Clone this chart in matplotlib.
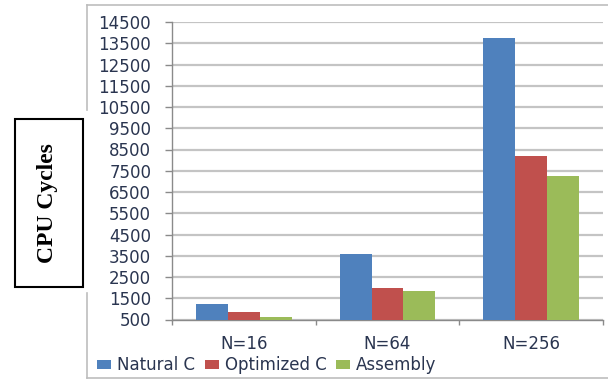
import matplotlib
matplotlib.use("Agg")
import matplotlib.pyplot as plt
from matplotlib.lines import Line2D
from matplotlib.patches import Rectangle
import numpy as np

categories = ["N=16", "N=64", "N=256"]
natural_c = [1240, 3590, 13730]
optimized_c = [850, 1980, 8200]
assembly = [600, 1860, 7260]
series_names = ["Natural C", "Optimized C", "Assembly"]
colors = ["#4F81BD", "#C0504D", "#9BBB59"]
y_ticks = list(range(500, 15000, 1000))

W, H = 608, 380
txt = "#2A3550"
fig = plt.figure(figsize=(W / 100, H / 100), dpi=100)
ax = fig.add_axes([172 / W, 1 - 319.5 / H, (603 - 172) / W, (319.5 - 22) / H])

x = np.arange(len(categories))
bw = 1 / 4.5
for i, (vals, name, c) in enumerate(zip([natural_c, optimized_c, assembly], series_names, colors)):
    ax.bar(x + (i - 1) * bw, np.array(vals) - 500, bw, bottom=500, color=c,
           label=name, zorder=3)

ax.set_xlim(-0.5, len(categories) - 0.5)
ax.set_ylim(500, 14500)
ax.set_yticks(y_ticks)
ax.set_yticklabels([str(v) for v in y_ticks], fontsize=12, color=txt)
ax.yaxis.grid(True, color="#C4C4C4", lw=1.6, zorder=0)
ax.set_axisbelow(True)

# category labels sit between the boundary ticks
ax.set_xticks(x)
ax.set_xticklabels(categories, fontsize=12, color=txt)
ax.tick_params(axis="x", length=0, pad=11)
ax.set_xticks(np.arange(len(categories) + 1) - 0.5, minor=True)
ax.tick_params(axis="x", which="minor", length=3.5, color="#8A8A8A", width=1)
ax.tick_params(axis="y", length=5, color="#8A8A8A", width=1, pad=10)

for s in ["top", "right"]:
    ax.spines[s].set_visible(False)
for s in ["left", "bottom"]:
    ax.spines[s].set_color("#8A8A8A")
    ax.spines[s].set_linewidth(1)

fig.legend(loc="center left", bbox_to_anchor=(90.5 / W, 1 - 365.5 / H), ncol=3,
           frameon=False, fontsize=12, handlelength=0.85, handleheight=0.45,
           handletextpad=0.36, columnspacing=0.55, labelcolor=txt,
           borderaxespad=0)

# outer chart border (interrupted by the label box)
gray = "#BDBDBD"
fig.add_artist(Line2D([87 / W, 1], [1 - 5 / H] * 2, color=gray, lw=1.2))
fig.add_artist(Line2D([86.5 / W, 1], [1 - 378 / H] * 2, color=gray, lw=1.2))
fig.add_artist(Line2D([86.5 / W] * 2, [1 - 5 / H, 1 - 110 / H], color=gray, lw=1.2))
fig.add_artist(Line2D([86.5 / W] * 2, [1 - 293 / H, 1 - 378 / H], color=gray, lw=1.2))

# boxed y-axis title
fig.add_artist(Rectangle((15 / W, 1 - 287 / H), 68 / W, 168 / H, fill=False,
                         edgecolor="black", lw=1.5))
fig.text(48 / W, 1 - 203 / H, "CPU Cycles", rotation=90, ha="center", va="center",
         fontsize=17, fontweight="bold", family="Liberation Serif")

fig.savefig("out.png", dpi=100)
